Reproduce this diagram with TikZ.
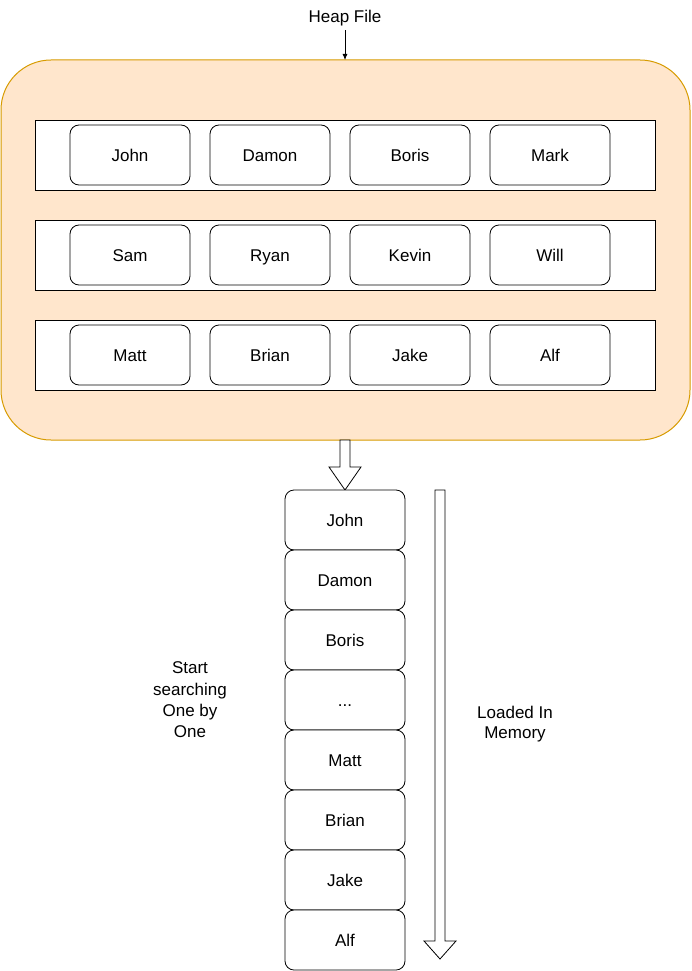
\documentclass[tikz,border=0pt]{standalone}
\usepackage{fontspec}
\setmainfont{Liberation Sans}
\usetikzlibrary{arrows.meta}
\definecolor{heapfill}{HTML}{FFE6CC}
\definecolor{heapline}{HTML}{D79B00}
\begin{document}
\begin{tikzpicture}[x=1pt,y=-1pt,
  every node/.style={font=\fontsize{17}{21.3}\selectfont},
  cell/.style={draw=black, fill=white, rounded corners=9pt, minimum width=120pt, minimum height=60pt, inner sep=0pt, text height=12pt, text depth=0pt, line width=0.8pt},
  rowbox/.style={draw=black, fill=white, line width=0.8pt},
  label/.style={align=center, inner sep=0pt},
  blockarrow/.style={draw=black, fill=white, line width=0.8pt, line join=miter}
]
\useasboundingbox (0,0) rectangle (691,971);
% heap container
\draw[fill=heapfill, draw=heapline, line width=1pt, rounded corners=50pt] (1,60) rectangle (690,440);
\node[label, anchor=base] (heaplbl) at (345,22.3) {Heap File};
\coordinate (heaptop) at (345,60);
\draw[-{Latex[length=6pt,width=5pt]}, line width=0.8pt] (heaplbl.south) ++(0,4) -- (heaptop);
% rows
\foreach \r/\y in {1/155,2/255,3/355}{
  \draw[rowbox] (35,\y-35) rectangle (655,\y+35);
}
\node[cell] (c11) at (130,155) {John};
\node[cell] (c12) at (270,155) {Damon};
\node[cell] (c13) at (410,155) {Boris};
\node[cell] (c14) at (550,155) {Mark};
\node[cell] (c21) at (130,255) {Sam};
\node[cell] (c22) at (270,255) {Ryan};
\node[cell] (c23) at (410,255) {Kevin};
\node[cell] (c24) at (550,255) {Will};
\node[cell] (c31) at (130,355) {Matt};
\node[cell] (c32) at (270,355) {Brian};
\node[cell] (c33) at (410,355) {Jake};
\node[cell] (c34) at (550,355) {Alf};
% block arrow down into stack
\draw[blockarrow] (340,440) -- (350,440) -- (350,467) -- (361,467) -- (345,490) -- (329,467) -- (340,467) -- cycle;
% stack
\node[cell] (s1) at (345,520) {John};
\node[cell] (s2) at (345,580) {Damon};
\node[cell] (s3) at (345,640) {Boris};
\node[cell] (s4) at (345,700) {...};
\node[cell] (s5) at (345,760) {Matt};
\node[cell] (s6) at (345,820) {Brian};
\node[cell] (s7) at (345,880) {Jake};
\node[cell] (s8) at (345,940) {Alf};
% long arrow
\draw[blockarrow] (435,490) -- (445,490) -- (445,941) -- (456,941) -- (440,959) -- (424,941) -- (435,941) -- cycle;
% labels
\node[label, anchor=north] (search) at (190,661.7) {Start\\searching\\One by\\One};
\node[label, anchor=north, font=\fontsize{17}{20.5}\selectfont] (loaded) at (515,705.5) {Loaded In\\Memory};
\end{tikzpicture}
\end{document}
